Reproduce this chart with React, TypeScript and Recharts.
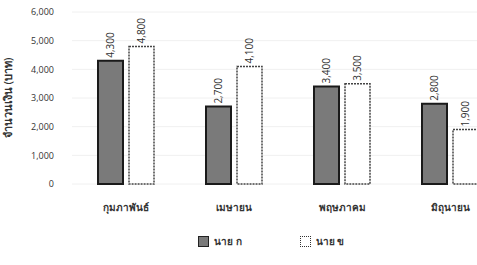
import React from "react";
import { BarChart, Bar, XAxis, YAxis, CartesianGrid, Legend, LabelList } from "recharts";

// Data
const months = ["กุมภาพันธ์", "เมษายน", "พฤษภาคม", "มิถุนายน"];
const naiKor = [4300, 2700, 3400, 2800];
const naiKhor = [4800, 4100, 3500, 1900];
const yTicks = [0, 1000, 2000, 3000, 4000, 5000, 6000];

const data = months.map((m, i) => ({ name: m, a: naiKor[i], b: naiKhor[i] }));

const font = "'Open Sans', 'Noto Sans', sans-serif";
const fmt = (v: number) => v.toLocaleString("en-US");

const VerticalLabel = (props: any) => {
  const { x, y, width, value } = props;
  const cx = x + width / 2;
  const ty = y - 3;
  return (
    <text
      x={cx}
      y={ty}
      transform={`rotate(-90 ${cx} ${ty})`}
      textAnchor="start"
      dominantBaseline="central"
      fontSize={10}
      fontFamily={font}
      fill="#333"
    >
      {fmt(value)}
    </text>
  );
};

const LegendBox = () => (
  <div style={{ display: "flex", alignItems: "center", fontFamily: font, fontSize: 10, color: "#333", fontWeight: 600 }}>
    <span style={{ display: "inline-block", width: 9, height: 9, background: "#7a7a7a", border: "1.5px solid #222", marginRight: 5 }} />
    <span style={{ marginRight: 58 }}>นาย ก</span>
    <span style={{ display: "inline-block", width: 9, height: 9, background: "#fff", border: "1.5px dotted #333", marginRight: 5 }} />
    <span>นาย ข</span>
  </div>
);

export default function App() {
  return (
    <div style={{ position: "absolute", left: 0, top: 0, width: 477, height: 265, overflow: "hidden", background: "#fff" }}>
      <BarChart
        width={504}
        height={265}
        data={data}
        margin={{ top: 12, right: 0, left: 0, bottom: 34 }}
        barGap={6}
        barSize={25}
      >
        <CartesianGrid vertical={false} stroke="#f0f0f0" />
        <XAxis
          dataKey="name"
          axisLine={false}
          tickLine={false}
          height={32}
          tick={{ fontSize: 10, fill: "#333", fontFamily: font, fontWeight: 600 }}
          tickMargin={14}
        />
        <YAxis
          width={72}
          domain={[0, 6000]}
          ticks={yTicks}
          tickFormatter={fmt}
          axisLine={false}
          tickLine={false}
          tickMargin={12}
          tick={{ fontSize: 9, fill: "#333", fontFamily: font }}
          label={{
            value: "จำนวนเงิน (บาท)",
            angle: -90,
            position: "insideLeft",
            offset: 8,
            style: { fontSize: 11, fill: "#333", fontFamily: font, fontWeight: 600, textAnchor: "middle" },
          }}
        />
        <Legend
          content={<LegendBox />}
          wrapperStyle={{ left: 198, top: 234, width: "auto" }}
        />
        <Bar dataKey="a" name="นาย ก" fill="#7a7a7a" stroke="#1a1a1a" strokeWidth={2} isAnimationActive={false}>
          <LabelList dataKey="a" content={<VerticalLabel />} />
        </Bar>
        <Bar dataKey="b" name="นาย ข" fill="#ffffff" stroke="#444" strokeWidth={1.5} strokeDasharray="2 1" isAnimationActive={false}>
          <LabelList dataKey="b" content={<VerticalLabel />} />
        </Bar>
      </BarChart>
    </div>
  );
}
